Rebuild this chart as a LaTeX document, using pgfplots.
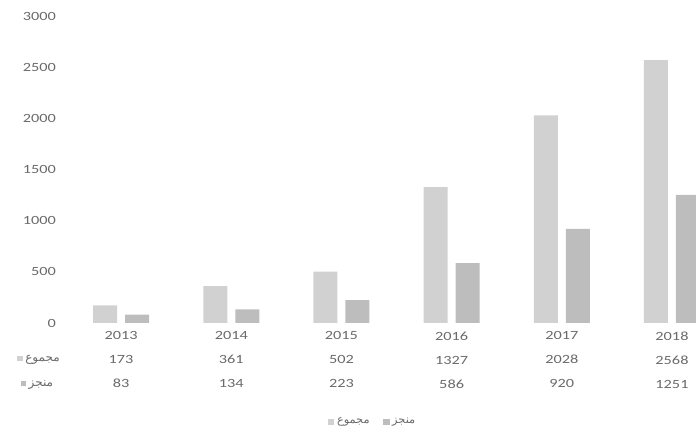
\documentclass[border=0pt]{standalone}
\usepackage{fontspec}
\setmainfont[FakeStretch=1.3]{Carlito}
\newfontfamily\arabicfont[Script=Arabic]{DejaVu Sans}
\TeXXeTstate=1
\usepackage{pgfplots}
\pgfplotsset{compat=1.18}
\definecolor{cA}{HTML}{D1D1D1}
\definecolor{cB}{HTML}{BDBDBD}
\definecolor{tg}{HTML}{6A6A6A}
\begin{document}
\begin{tikzpicture}
\useasboundingbox (0,0) rectangle (522pt,329.25pt);
\begin{axis}[
  at={(49.5pt,87pt)}, anchor=south west,
  scale only axis, width=472.5pt, height=230.25pt,
  xmin=-0.5, xmax=5.218, ymin=0, ymax=3000,
  axis line style={draw=none}, major tick length=0pt,
  ytick={0,500,...,3000},
  /pgf/number format/assume math mode=true,
  /pgf/number format/1000 sep={},
  scaled y ticks=false,
  yticklabel style={font=\fontsize{9.4}{11}\selectfont, text=tg, xshift=-4pt},
  xtick={0,...,5},
  xticklabels={{2013\\173\\83},{2014\\361\\134},{2015\\502\\223},{2016\\1327\\586},{2017\\2028\\920},{2018\\2568\\1251}},
  xticklabel style={align=center, font=\fontsize{9.4}{18}\selectfont, text=tg, yshift=-3pt},
  legend style={at={(0.487,-0.3225)}, anchor=center, draw=none, fill=none,
    legend columns=2, font=\fontsize{8.5}{10}\selectfont, text=tg,
    /tikz/every even column/.append style={column sep=8pt}},
  legend image code/.code={\fill[#1] (0pt,-2.5pt) rectangle (5pt,2.5pt);},
]
\addplot[ybar, bar width=18pt, bar shift=-12pt, fill=cA, draw=none]
  coordinates {(0,173) (1,361) (2,502) (3,1327) (4,2028) (5,2568)};
\addlegendentry{\arabicfont\beginR مجموع\endR}
\addplot[ybar, bar width=18pt, bar shift=12pt, fill=cB, draw=none]
  coordinates {(0,83) (1,134) (2,223) (3,586) (4,920) (5,1251)};
\addlegendentry{\arabicfont\beginR منجز\endR}
\end{axis}
\node[anchor=east, inner sep=0pt, text=tg, font=\fontsize{9}{10}\selectfont] at (45pt,59.5pt)
  {\textcolor{cA}{\rule{4pt}{4pt}}\hspace{2pt}{\arabicfont\beginR مجموع\endR}};
\node[anchor=east, inner sep=0pt, text=tg, font=\fontsize{9}{10}\selectfont] at (40pt,40.5pt)
  {\textcolor{cB}{\rule{4pt}{4pt}}\hspace{2pt}{\arabicfont\beginR منجز\endR}};
\end{tikzpicture}
\end{document}
